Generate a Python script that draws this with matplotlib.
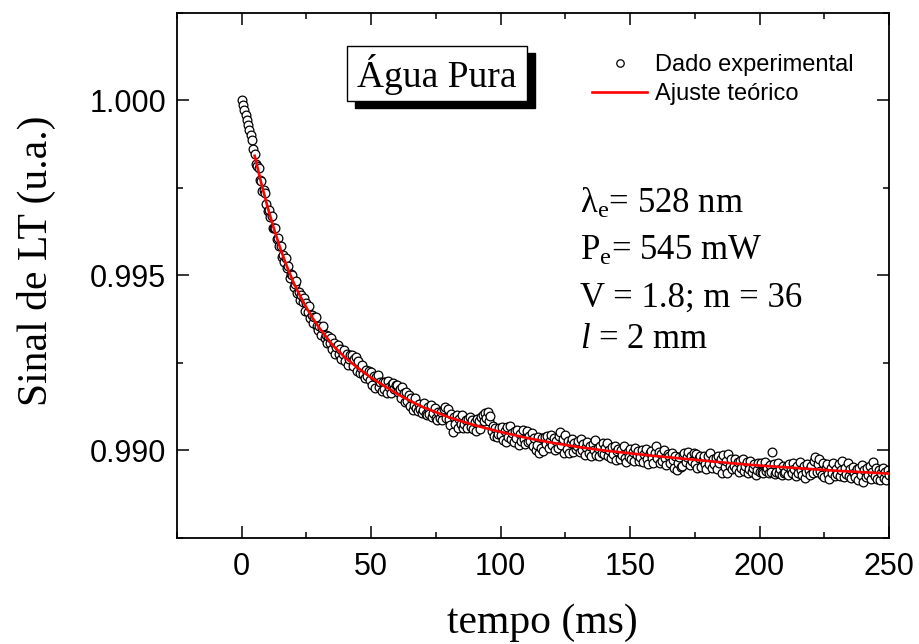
import numpy as np
import matplotlib
matplotlib.use("Agg")
import matplotlib.pyplot as plt
from matplotlib.patches import Rectangle
from matplotlib.ticker import MultipleLocator, FormatStrFormatter

# ---------------- data (signal in units of 1e-5) ----------------
signal_e5 = [
    100000, 99988, 99974, 99959, 99945, 99931, 99917, 99902, 99888, 99862,
    99847, 99819, 99814, 99806, 99774, 99769, 99741, 99745, 99735, 99704,
    99685, 99688, 99666, 99669, 99637, 99635, 99636, 99603, 99606, 99583,
    99583, 99553, 99559, 99539, 99549, 99522, 99526, 99492, 99504, 99501,
    99466, 99477, 99483, 99449, 99453, 99430, 99444, 99424, 99437, 99399,
    99420, 99396, 99414, 99379, 99387, 99363, 99380, 99382, 99356, 99343,
    99356, 99329, 99350, 99355, 99322, 99329, 99307, 99328, 99307, 99322,
    99290, 99306, 99276, 99296, 99301, 99277, 99290, 99261, 99275, 99287,
    99257, 99276, 99245, 99262, 99273, 99274, 99242, 99262, 99267, 99228,
    99257, 99220, 99237, 99243, 99218, 99206, 99229, 99212, 99227, 99201,
    99223, 99188, 99212, 99179, 99211, 99215, 99180, 99196, 99170, 99197,
    99175, 99195, 99164, 99198, 99182, 99165, 99189, 99193, 99177, 99186,
    99186, 99168, 99176, 99150, 99180, 99164, 99140, 99168, 99142, 99158,
    99128, 99150, 99116, 99131, 99151, 99121, 99113, 99133, 99118, 99106,
    99116, 99135, 99105, 99100, 99124, 99105, 99131, 99096, 99106, 99121,
    99093, 99088, 99110, 99093, 99111, 99088, 99118, 99125, 99093, 99118,
    99091, 99074, 99103, 99052, 99096, 99075, 99100, 99065, 99090, 99075,
    99100, 99064, 99075, 99088, 99063, 99090, 99097, 99067, 99088, 99061,
    99080, 99057, 99090, 99083, 99062, 99095, 99102, 99083, 99108, 99093,
    99110, 99084, 99099, 99056, 99071, 99042, 99063, 99038, 99047, 99064,
    99043, 99066, 99031, 99056, 99024, 99067, 99040, 99069, 99032, 99049,
    99023, 99056, 99037, 99058, 99017, 99048, 99027, 99059, 99034, 99019,
    99056, 99023, 99041, 99026, 99049, 99012, 99036, 99001, 99016, 99039,
    98993, 99006, 99035, 98999, 99038, 99019, 99042, 99008, 99027, 99044,
    99016, 99035, 99001, 99028, 99006, 99041, 99052, 99016, 99033, 98993,
    99044, 99005, 99027, 98992, 99020, 99033, 98996, 99022, 99003, 99013,
    99026, 98995, 99033, 99002, 99018, 98987, 99011, 99024, 98994, 99013,
    98983, 99018, 99000, 99029, 98987, 99008, 98984, 99013, 98993, 99020,
    98990, 99008, 99021, 98985, 99002, 98978, 99009, 98991, 99013, 98972,
    98998, 99005, 98977, 99001, 98986, 99014, 98979, 98967, 98996, 98982,
    99004, 98976, 98997, 98969, 99008, 98986, 98999, 98971, 98981, 99002,
    98968, 98991, 99003, 98975, 98962, 98994, 98999, 98979, 98964, 98994,
    99012, 98978, 98997, 98965, 98991, 98970, 99002, 98978, 98959, 98991,
    98985, 98964, 98992, 98972, 98951, 98985, 98945, 98964, 98980, 98953,
    98957, 98987, 98994, 98968, 98980, 98997, 98959, 98983, 98970, 98994,
    98962, 98989, 98949, 98979, 98984, 98954, 98974, 98985, 98961, 98948,
    98984, 98960, 98993, 98951, 98975, 98962, 98978, 98946, 98983, 98963,
    98975, 98936, 98986, 98954, 98969, 98937, 98991, 98956, 98976, 98947,
    98957, 98975, 98946, 98966, 98940, 98969, 98951, 98977, 98942, 98956,
    98966, 98935, 98947, 98969, 98938, 98950, 98960, 98931, 98943, 98963,
    98939, 98965, 98940, 98936, 98968, 98942, 98951, 98937, 98958, 98939,
    98995, 98960, 98934, 98940, 98963, 98935, 98947, 98931, 98956, 98936,
    98938, 98956, 98931, 98961, 98943, 98935, 98964, 98948, 98928, 98956,
    98937, 98967, 98943, 98931, 98956, 98922, 98938, 98960, 98943, 98931,
    98957, 98935, 98970, 98982, 98938, 98960, 98975, 98941, 98931, 98963,
    98924, 98950, 98960, 98934, 98919, 98951, 98937, 98963, 98926, 98946,
    98934, 98960, 98928, 98945, 98969, 98923, 98951, 98934, 98964, 98928,
    98946, 98920, 98953, 98935, 98923, 98947, 98916, 98950, 98930, 98958,
    98910, 98944, 98923, 98949, 98931, 98957, 98918, 98940, 98966, 98926,
    98950, 98919, 98943, 98915, 98937, 98951, 98922, 98940, 98916, 98944,
    98930,
]
sample_step_ms = 0.5

fit_t = [5, 7.5, 10, 12.5, 15, 17.5, 20, 22.5, 25, 27.5, 30, 35, 40, 45, 50,
         55, 60, 65, 70, 80, 90, 100, 110, 120, 130, 140, 150, 160, 170, 180,
         190, 200, 210, 220, 230, 240, 250]
fit_e5 = [99842, 99765, 99695, 99632, 99575, 99525, 99480, 99442, 99408,
          99377, 99350, 99302, 99265, 99235, 99208, 99185, 99162, 99142,
          99124, 99095, 99072, 99053, 99036, 99022, 99010, 99000, 98992,
          98984, 98977, 98970, 98963, 98957, 98952, 98947, 98942, 98938,
          98934]

x_ticks = [0, 50, 100, 150, 200, 250]
y_ticks = [0.990, 0.995, 1.000]

title_box = "Água Pura"
legend_labels = ["Dado experimental", "Ajuste teórico"]
info_lines = ["λ$_\\mathrm{e}$= 528 nm", "P$_\\mathrm{e}$= 545 mW",
              "V = 1.8; m = 36", "$\\mathit{l}$ = 2 mm"]
xlabel = "tempo (ms)"
ylabel = "Sinal de LT (u.a.)"

# ---------------- styling ----------------
plt.rcParams["font.family"] = ["Liberation Sans", "DejaVu Sans"]
plt.rcParams["mathtext.fontset"] = "custom"
plt.rcParams["mathtext.rm"] = "Liberation Serif"
plt.rcParams["mathtext.it"] = "Liberation Serif:italic"
plt.rcParams["mathtext.bf"] = "Liberation Serif:bold"
SERIF = ["Liberation Serif", "DejaVu Serif"]

t = np.arange(len(signal_e5)) * sample_step_ms
y = np.array(signal_e5) / 1e5
ft = np.array(fit_t)
fy = np.array(fit_e5) / 1e5

W, H = 920, 644
fig = plt.figure(figsize=(W / 100, H / 100), dpi=100)
L, R, T, B = 177, 889, 13, 538
ax = fig.add_axes([L / W, 1 - B / H, (R - L) / W, (B - T) / H])

pts, = ax.plot(t, y, linestyle="none", marker="o", markersize=6.3,
               markerfacecolor="white", markeredgecolor="black",
               markeredgewidth=0.9, zorder=2, label=legend_labels[0])
fitl, = ax.plot(ft, fy, color="#ff0000", linewidth=1.9, zorder=3,
                label=legend_labels[1])

ax.set_xlim(-25, 250)
ax.set_ylim(0.9875, 1.0025)
ax.set_xticks(x_ticks)
ax.set_yticks(y_ticks)
ax.xaxis.set_minor_locator(MultipleLocator(25))
ax.yaxis.set_minor_locator(MultipleLocator(0.0025))
ax.yaxis.set_major_formatter(FormatStrFormatter("%.3f"))
ax.tick_params(which="both", direction="in", top=True, right=True, width=1.1)
ax.tick_params(which="major", length=8.5)
ax.tick_params(which="minor", length=4.5)
ax.tick_params(axis="x", which="major", labelsize=22, pad=10)
ax.tick_params(axis="y", which="major", labelsize=22, pad=8)
for s in ax.spines.values():
    s.set_linewidth(1.3)

ax.set_xlabel(xlabel, fontsize=30, family=SERIF)
ax.set_ylabel(ylabel, fontsize=30, family=SERIF)
ax.xaxis.set_label_coords((542 - L) / (R - L), (B - 603) / (B - T))
ax.yaxis.set_label_coords((56 - L) / (R - L), 1 - (261 - T) / (B - T))

# title box with shadow
bx0, bx1, by0, by1 = 346.7, 527, 45.7, 101
off_x, off_y = 8, 7
def px2ax(xp, yp):
    return (xp - L) / (R - L), (B - yp) / (B - T)
sx, sy = px2ax(bx0 + off_x, by1 + off_y)
ax.add_patch(Rectangle((sx, sy), (bx1 - bx0) / (R - L), (by1 - by0) / (B - T),
                       transform=ax.transAxes, facecolor="black",
                       edgecolor="black", zorder=5))
mx, my = px2ax(bx0, by1)
ax.add_patch(Rectangle((mx, my), (bx1 - bx0) / (R - L), (by1 - by0) / (B - T),
                       transform=ax.transAxes, facecolor="white",
                       edgecolor="black", linewidth=1.0, zorder=6))
cx, cy = px2ax((bx0 + bx1) / 2, (by0 + by1) / 2 + 1)
ax.text(cx, cy, title_box, transform=ax.transAxes, ha="center", va="center",
        fontsize=27, family=SERIF, zorder=7)

# legend
lx, ly = px2ax(592, 54)
leg = ax.legend(handles=[pts, fitl], loc="upper left", bbox_to_anchor=(lx, ly),
                frameon=False, fontsize=17, handlelength=2.35,
                handletextpad=0.3, labelspacing=0.3, borderpad=0,
                borderaxespad=0, markerscale=0.85)

# info text
baselines = [213, 260, 307, 348]
for line, bl in zip(info_lines, baselines):
    px, py = px2ax(580, bl)
    ax.text(px, py, line, transform=ax.transAxes, ha="left", va="baseline",
            fontsize=25, family=SERIF, zorder=7)

fig.savefig("out.png", dpi=100)
